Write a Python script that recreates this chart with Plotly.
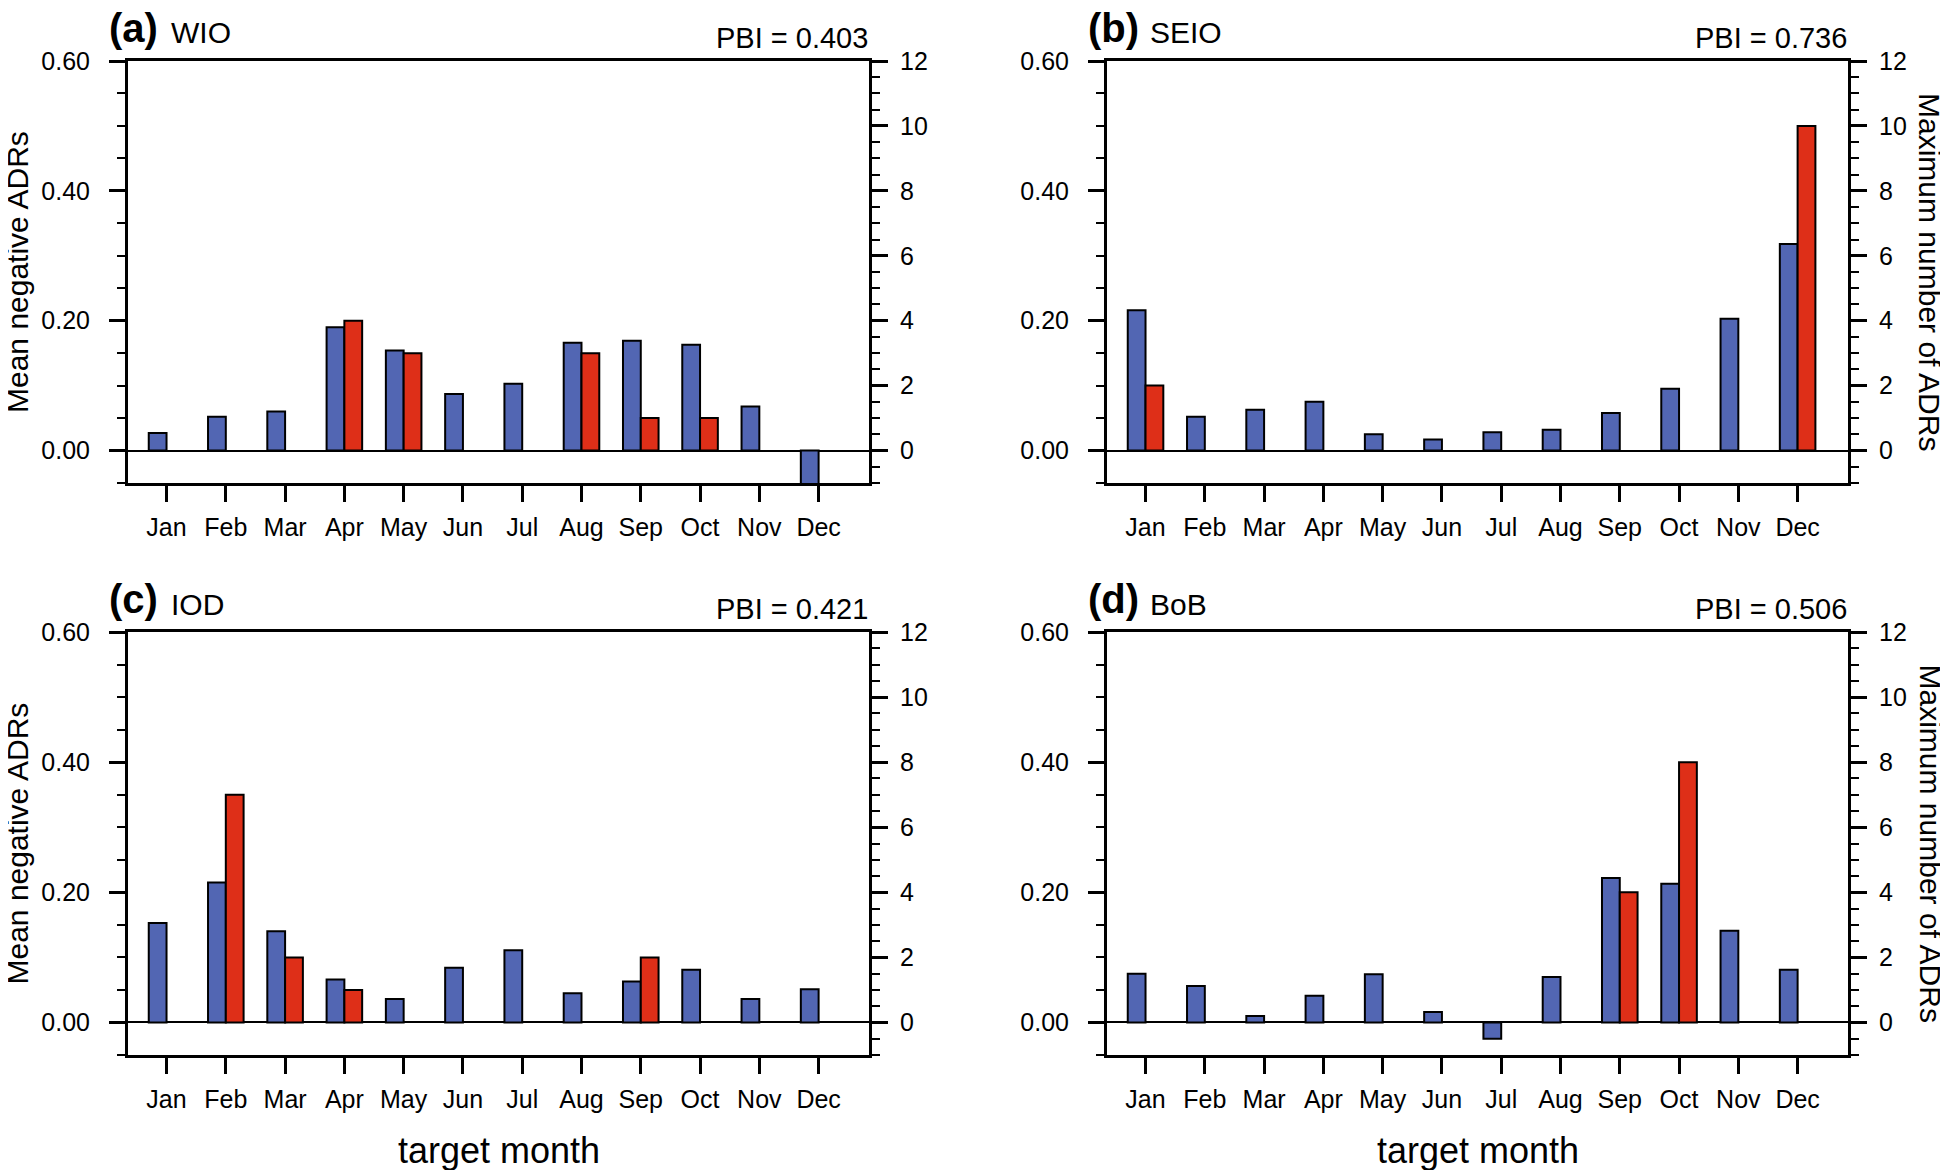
import plotly.graph_objects as go

# ---------------- data ----------------
months = ["Jan", "Feb", "Mar", "Apr", "May", "Jun",
          "Jul", "Aug", "Sep", "Oct", "Nov", "Dec"]
month_num = [1, 2, 3, 4, 5, 6, 7, 8, 9, 10, 11, 12]

panel_tags = ["(a)", "(b)", "(c)", "(d)"]
regions = ["WIO", "SEIO", "IOD", "BoB"]
pbi_values = ["0.403", "0.736", "0.421", "0.506"]

# Mean negative ADRs (left axis, blue)
wio_mean = [0.027, 0.052, 0.060, 0.190, 0.154, 0.087, 0.103, 0.166, 0.169, 0.163, 0.068, -0.06]
seio_mean = [0.216, 0.052, 0.063, 0.075, 0.025, 0.017, 0.028, 0.032, 0.058, 0.095, 0.203, 0.318]
iod_mean = [0.153, 0.215, 0.140, 0.066, 0.036, 0.084, 0.111, 0.045, 0.063, 0.081, 0.036, 0.051]
bob_mean = [0.075, 0.056, 0.010, 0.041, 0.074, 0.016, -0.025, 0.070, 0.222, 0.213, 0.141, 0.081]

# Maximum number of ADRs (right axis, red)
wio_max = [None, None, None, 4, 3, None, None, 3, 1, 1, None, None]
seio_max = [2, None, None, None, None, None, None, None, None, None, None, 10]
iod_max = [None, 7, 2, 1, None, None, None, None, 2, None, None, None]
bob_max = [None, None, None, None, None, None, None, None, 4, 8, None, None]

mean_series = [wio_mean, seio_mean, iod_mean, bob_mean]
max_series = [wio_max, seio_max, iod_max, bob_max]

left_ticks = [0.0, 0.2, 0.4, 0.6]
right_ticks = [0, 2, 4, 6, 8, 10, 12]

# ---------------- styling / layout ----------------
OFF = 8                 # default page (body) margin
FW, FH = 1940, 1162     # figure size
BLUE = "#5266b3"
RED = "#de2f18"
FONT = "Liberation Sans, Arial, Helvetica, sans-serif"


def px(x):
    return (x - OFF) / FW


def py(y):
    return 1 - (y - OFF) / FH


# panel boxes in screen pixels: (left, right, top, bottom)
boxes = [(128, 869, 61, 483), (1107, 1848, 61, 483),
         (128, 869, 632, 1055), (1107, 1848, 632, 1055)]

fig = go.Figure()
layout = dict(
    template="none",
    width=FW, height=FH,
    margin=dict(l=0, r=0, t=0, b=0, pad=0),
    paper_bgcolor="white", plot_bgcolor="white",
    showlegend=False,
    font=dict(family=FONT, color="black", size=25),
    annotations=[],
)

for i in range(4):
    xid = "" if i == 0 else str(i + 1)
    yl = 2 * i + 1
    yr = 2 * i + 2
    yl_id = "" if yl == 1 else str(yl)
    yr_id = str(yr)
    l, r, t, b = boxes[i]

    fig.add_trace(go.Bar(
        x=month_num, y=mean_series[i], width=0.3, offset=-0.3,
        marker=dict(color=BLUE, line=dict(color="black", width=2)),
        xaxis="x" + xid, yaxis="y" + yl_id,
    ))
    fig.add_trace(go.Bar(
        x=month_num, y=max_series[i], width=0.3, offset=0.0,
        marker=dict(color=RED, line=dict(color="black", width=2)),
        xaxis="x" + xid, yaxis="y" + yr_id,
    ))

    layout["xaxis" + xid] = dict(
        domain=[px(l), px(r)], anchor="y" + yl_id, automargin=False,
        range=[0.35, 12.85], tickmode="array", tickvals=month_num, ticktext=months,
        ticks="outside", ticklen=16, tickwidth=3, tickcolor="black",
        showline=True, linewidth=3, linecolor="black", mirror=True,
        showgrid=False, zeroline=False, ticklabelstandoff=4,
        tickfont=dict(size=25),
    )
    layout["yaxis" + yl_id] = dict(
        domain=[py(b), py(t)], anchor="x" + xid, automargin=False,
        range=[-0.05, 0.6], tickmode="array", tickvals=left_ticks,
        ticktext=["%.2f" % v for v in left_ticks],
        ticks="outside", ticklen=16, tickwidth=3, tickcolor="black",
        minor=dict(ticks="outside", ticklen=8, tickwidth=2, tickcolor="black",
                   tickmode="linear", tick0=0, dtick=0.05, showgrid=False),
        showline=True, linewidth=3, linecolor="black", mirror=True,
        showgrid=False, zeroline=True, zerolinecolor="black", zerolinewidth=2,
        ticklabelstandoff=14, tickfont=dict(size=25),
    )
    layout["yaxis" + yr_id] = dict(
        overlaying="y" + yl_id, side="right", anchor="x" + xid, automargin=False,
        range=[-1, 12], tickmode="array", tickvals=right_ticks,
        ticktext=[str(v) for v in right_ticks],
        ticks="outside", ticklen=16, tickwidth=3, tickcolor="black",
        minor=dict(ticks="outside", ticklen=8, tickwidth=2, tickcolor="black",
                   tickmode="linear", tick0=0, dtick=0.5, showgrid=False),
        showline=True, linewidth=3, linecolor="black",
        showgrid=False, zeroline=False, ticklabelstandoff=7,
        tickfont=dict(size=25),
    )

    ann = layout["annotations"]
    # panel tag and region name
    ann.append(dict(text="<b>%s</b>" % panel_tags[i], xref="paper", yref="paper",
                    x=px(l - 21), y=py(t - 33), xanchor="left", yanchor="middle",
                    showarrow=False, font=dict(size=40, family=FONT)))
    ann.append(dict(text=regions[i], xref="paper", yref="paper",
                    x=px(l + 41), y=py(t - 28), xanchor="left", yanchor="middle",
                    showarrow=False, font=dict(size=30, family=FONT)))
    ann.append(dict(text="PBI = %s" % pbi_values[i], xref="paper", yref="paper",
                    x=px(r + 1), y=py(t - 23), xanchor="right", yanchor="middle",
                    showarrow=False, font=dict(size=29, family=FONT)))
    # axis titles
    cy = (t + b) / 2
    if i in (0, 2):
        ann.append(dict(text="Mean negative ADRs", xref="paper", yref="paper",
                        x=px(17), y=py(cy), xanchor="center", yanchor="middle",
                        textangle=-90, showarrow=False, font=dict(size=30, family=FONT)))
    else:
        ann.append(dict(text="Maximum number of ADRs", xref="paper", yref="paper",
                        x=px(1930), y=py(cy), xanchor="center", yanchor="middle",
                        textangle=90, showarrow=False, font=dict(size=30, family=FONT)))
    if i in (2, 3):
        ann.append(dict(text="target month", xref="paper", yref="paper",
                        x=px((l + r) / 2), y=py(1150), xanchor="center", yanchor="middle",
                        showarrow=False, font=dict(size=36, family=FONT)))

fig.update_layout(**layout)
fig.update_layout(barmode="overlay")
fig.write_html("out.html")
